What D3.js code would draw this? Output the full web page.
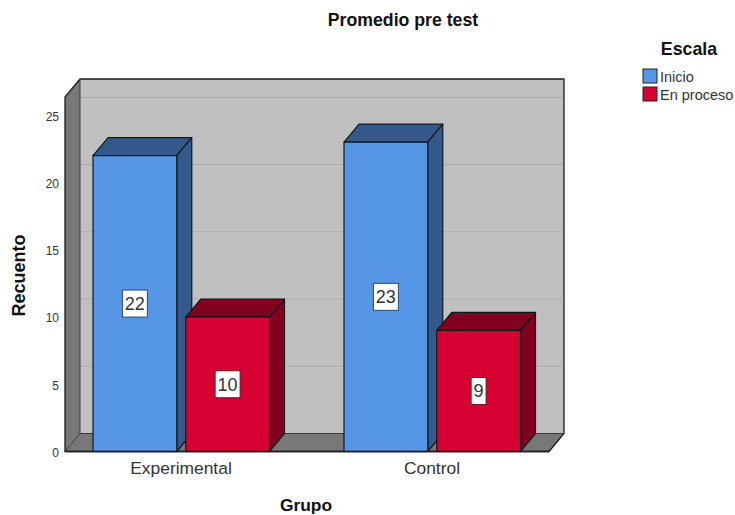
<!DOCTYPE html>
<html>
<head>
<meta charset="utf-8">
<script src="https://cdnjs.cloudflare.com/ajax/libs/d3/7.8.5/d3.min.js"></script>
<style>
  html, body { margin: 0; padding: 0; background: #fff; }
  text { font-family: "Liberation Sans", Arial, sans-serif; }
</style>
</head>
<body>
<div id="chart"></div>
<script>
var grupos = ["Experimental", "Control"];
var escalas = ["Inicio", "En proceso"];
var inicio = [22, 23];
var enProceso = [10, 9];
var yTicks = [0, 5, 10, 15, 20, 25];
var colores = ["#5596e6", "#d60032"];
var coloresOscuros = ["#335a8a", "#80001e"];

var width = 735, height = 515;
// depth of the 3D box
var dx = 15, dy = -18;
var floorY = 451.5, topY = 97, leftX = 65, rightX = 549;

var svg = d3.select("#chart").append("svg")
    .attr("width", width)
    .attr("height", height)
    .style("display", "block");

var y = d3.scaleLinear().domain([0, 26.36]).range([floorY, topY]);
var x0 = d3.scaleBand().domain(grupos).range([56, 558]);
var x1 = d3.scaleBand().domain(escalas).range([37, 213.5]).paddingInner(9 / 93);

function poly(pts, fill, stroke, sw) {
    return svg.append("polygon")
        .attr("points", pts.map(function (p) { return p.join(","); }).join(" "))
        .attr("fill", fill)
        .attr("stroke", stroke || "none")
        .attr("stroke-width", sw || 0)
        .attr("stroke-linejoin", "round");
}

// back wall
poly([[leftX + dx, topY + dy], [rightX + dx, topY + dy], [rightX + dx, floorY + dy], [leftX + dx, floorY + dy]], "#c0c0c0");
// left wall
poly([[leftX, topY], [leftX + dx, topY + dy], [leftX + dx, floorY + dy], [leftX, floorY]], "#787878");
// floor
poly([[leftX, floorY], [leftX + dx, floorY + dy], [rightX + dx, floorY + dy], [rightX, floorY]], "#787878");

// grid lines on the back wall
svg.append("g").selectAll("line")
    .data(yTicks.slice(1))
    .enter()
    .append("line")
    .attr("x1", leftX + dx)
    .attr("x2", rightX + dx)
    .attr("y1", function (d) { return y(d) + dy; })
    .attr("y2", function (d) { return y(d) + dy; })
    .attr("stroke", "#adadad")
    .attr("stroke-width", 1.2);

// box outline
svg.append("path")
    .attr("d", "M" + leftX + "," + floorY + "V" + topY + "L" + (leftX + dx) + "," + (topY + dy) +
        "H" + (rightX + dx) + "V" + (floorY + dy) + "L" + rightX + "," + floorY + "H" + leftX + "Z")
    .attr("fill", "none")
    .attr("stroke", "#1c1c1c")
    .attr("stroke-width", 1.3);
svg.append("path")
    .attr("d", "M" + (leftX + dx) + "," + (topY + dy) + "V" + (floorY + dy) + "L" + leftX + "," + floorY +
        "M" + (leftX + dx) + "," + (floorY + dy) + "H" + (rightX + dx))
    .attr("fill", "none")
    .attr("stroke", "#3a3a3a")
    .attr("stroke-width", 1);

// bars
var barStroke = "#14181f";
grupos.forEach(function (g, i) {
    [inicio[i], enProceso[i]].forEach(function (v, s) {
        var bx = x0(g) + x1(escalas[s]);
        var bw = x1.bandwidth();
        var by = y(v);
        // top face
        poly([[bx, by], [bx + dx, by + dy], [bx + bw + dx, by + dy], [bx + bw, by]], coloresOscuros[s], barStroke, 1.2);
        // side face
        poly([[bx + bw, by], [bx + bw + dx, by + dy], [bx + bw + dx, floorY + dy], [bx + bw, floorY]], coloresOscuros[s], barStroke, 1.2);
        // front face
        svg.append("rect")
            .attr("x", bx)
            .attr("y", by)
            .attr("width", bw)
            .attr("height", floorY - by)
            .attr("fill", colores[s])
            .attr("stroke", barStroke)
            .attr("stroke-width", 1.2);

        // value label
        var lw = v >= 10 ? 25 : 15;
        var my = (by + floorY) / 2;
        svg.append("rect")
            .attr("x", bx + bw / 2 - lw / 2)
            .attr("y", my - 13.5)
            .attr("width", lw)
            .attr("height", 27)
            .attr("fill", "#fff")
            .attr("stroke", s === 0 ? "#2b4870" : "#6d1026")
            .attr("stroke-width", 1);
        svg.append("text")
            .attr("x", bx + bw / 2)
            .attr("y", my + 6.5)
            .attr("text-anchor", "middle")
            .attr("font-size", 18)
            .attr("fill", "#333")
            .text(v);
    });
});

// front baseline over the bars
svg.append("line")
    .attr("x1", leftX).attr("x2", rightX)
    .attr("y1", floorY).attr("y2", floorY)
    .attr("stroke", "#1c1c1c")
    .attr("stroke-width", 1.3);

// y axis labels
var yAxis = d3.axisLeft(y).tickValues(yTicks).tickSize(0).tickPadding(6);
var yg = svg.append("g").attr("transform", "translate(" + leftX + ",1)").call(yAxis);
yg.select(".domain").remove();
yg.selectAll("text")
    .attr("font-size", 12)
    .attr("fill", "#333")
    .style("font-family", '"Liberation Sans", Arial, sans-serif');

// x axis labels
var xAxis = d3.axisBottom(x0).tickSize(0).tickPadding(10);
var xg = svg.append("g").attr("transform", "translate(-0.5," + floorY + ")").call(xAxis);
xg.select(".domain").remove();
xg.selectAll("text")
    .attr("font-size", 17.4)
    .attr("fill", "#333")
    .style("font-family", '"Liberation Sans", Arial, sans-serif');

// titles
svg.append("text")
    .attr("x", 403).attr("y", 26)
    .attr("text-anchor", "middle")
    .attr("font-size", 17.7).attr("font-weight", "bold").attr("fill", "#111")
    .text("Promedio pre test");
svg.append("text")
    .attr("x", 306).attr("y", 511)
    .attr("text-anchor", "middle")
    .attr("font-size", 17.4).attr("font-weight", "bold").attr("fill", "#111")
    .text("Grupo");
svg.append("text")
    .attr("transform", "translate(25,275.5) rotate(-90)")
    .attr("text-anchor", "middle")
    .attr("font-size", 18).attr("font-weight", "bold").attr("fill", "#111")
    .text("Recuento");

// legend
svg.append("text")
    .attr("x", 689).attr("y", 55)
    .attr("text-anchor", "middle")
    .attr("font-size", 17.8).attr("font-weight", "bold").attr("fill", "#111")
    .text("Escala");
var lg = svg.append("g").selectAll("g")
    .data(escalas)
    .enter()
    .append("g")
    .attr("transform", function (d, i) { return "translate(643," + (69 + i * 18) + ")"; });
lg.append("rect")
    .attr("width", 14)
    .attr("height", 14)
    .attr("fill", function (d, i) { return colores[i]; })
    .attr("stroke", "#222")
    .attr("stroke-width", 1);
lg.append("text")
    .attr("x", 17)
    .attr("y", 13)
    .attr("font-size", 14.5)
    .attr("fill", "#333")
    .text(function (d) { return d; });
</script>
</body>
</html>
